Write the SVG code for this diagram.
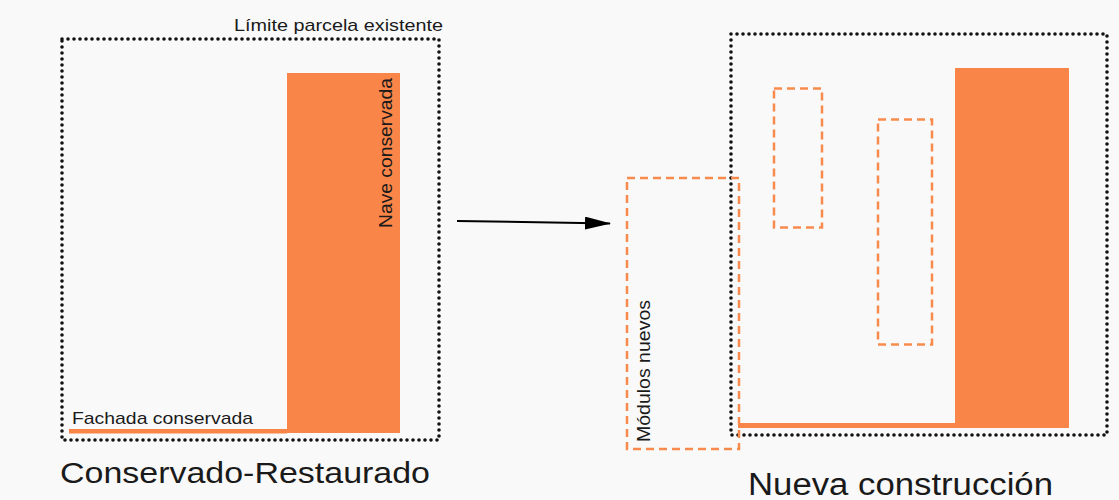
<svg xmlns="http://www.w3.org/2000/svg" width="1119" height="500" viewBox="0 0 1119 500">
  <style>
    .lbl { font-family: "Liberation Sans", Arial, sans-serif; fill: #1a1a1a; }
    .plot { fill: none; stroke: #111; stroke-width: 3.6; stroke-dasharray: 0 6; stroke-linecap: round; }
    .solid { fill: #FA8548; }
    .module { fill: none; stroke: #F98A4E; stroke-width: 2.5; stroke-dasharray: 8 5; }
    .conn { stroke: #000; stroke-width: 2; fill: none; }
  </style>
  <defs>
    <marker id="head" markerUnits="userSpaceOnUse" markerWidth="26" markerHeight="13" refX="25" refY="6.5" orient="auto">
      <path d="M0,0 L26,6.5 L0,13 z" fill="#000"/>
    </marker>
  </defs>

  <rect width="1119" height="500" fill="#F9F9F9"/>

  <!-- Existing state -->
  <g id="existing-plot">
    <rect class="plot" x="62" y="39" width="377" height="401"/>
    <text class="lbl" x="234" y="31" font-size="17" textLength="209" lengthAdjust="spacingAndGlyphs">Límite parcela existente</text>
  </g>
  <g id="nave-conservada">
    <rect class="solid" x="287" y="73" width="113" height="360"/>
    <text class="lbl" x="392" y="228" font-size="18" textLength="150" lengthAdjust="spacingAndGlyphs" transform="rotate(-90 392 228)">Nave conservada</text>
  </g>
  <g id="fachada-conservada">
    <rect class="solid" x="69" y="429" width="218" height="4.5"/>
    <text class="lbl" x="72" y="424" font-size="17" textLength="181" lengthAdjust="spacingAndGlyphs">Fachada conservada</text>
  </g>
  <g id="title-existing">
    <text class="lbl" x="60" y="483" font-size="30" textLength="370" lengthAdjust="spacingAndGlyphs">Conservado-Restaurado</text>
  </g>

  <!-- Transformation arrow -->
  <g id="connectors">
    <line class="conn" x1="457" y1="221" x2="610" y2="223.5" marker-end="url(#head)"/>
  </g>

  <!-- New construction -->
  <g id="new-plot">
    <rect class="plot" x="731" y="34" width="376" height="401"/>
  </g>
  <g id="new-nave">
    <rect class="solid" x="955" y="68" width="114" height="360"/>
  </g>
  <g id="new-fachada">
    <rect class="solid" x="738" y="423" width="217" height="5"/>
  </g>
  <g id="module-a">
    <rect class="module" x="774" y="88.5" width="48" height="139"/>
  </g>
  <g id="module-b">
    <rect class="module" x="878" y="119.5" width="54" height="225"/>
  </g>
  <g id="modulos-nuevos">
    <rect class="module" x="627" y="178" width="112" height="271"/>
    <text class="lbl" x="650" y="442" font-size="18" textLength="142" lengthAdjust="spacingAndGlyphs" transform="rotate(-90 650 442)">Módulos nuevos</text>
  </g>
  <g id="title-new">
    <text class="lbl" x="748" y="495" font-size="31" textLength="305" lengthAdjust="spacingAndGlyphs">Nueva construcción</text>
  </g>
</svg>
